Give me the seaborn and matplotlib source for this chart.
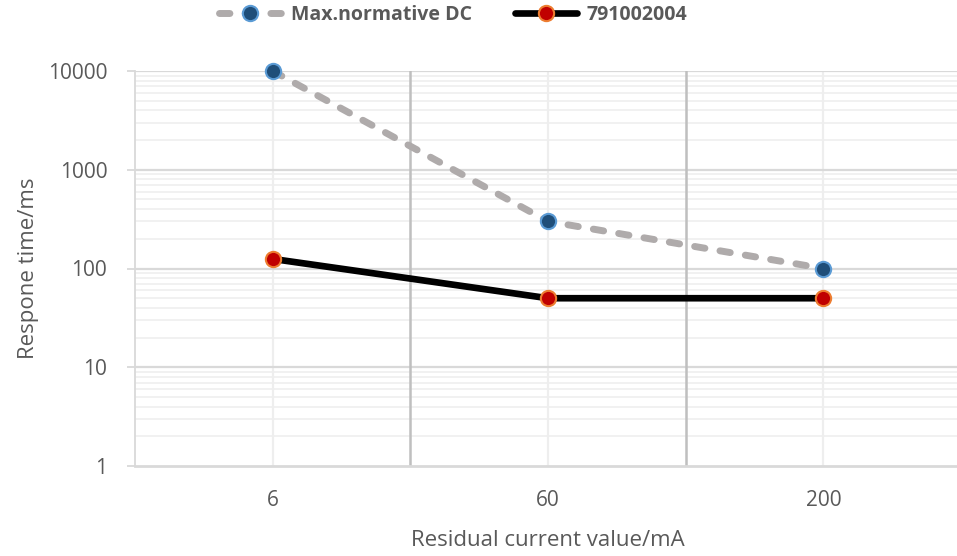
import matplotlib
matplotlib.use("Agg")
import matplotlib.pyplot as plt
import seaborn as sns
import pandas as pd
from matplotlib.ticker import LogLocator, FixedLocator, NullFormatter

categories = ["6", "60", "200"]
max_normative = [10000, 300, 100]
device = [125, 50, 50]
series_names = ["Max.normative DC", "791002004"]
y_ticks = [1, 10, 100, 1000, 10000]
x_label = "Residual current value/mA"
y_label = "Respone time/ms"

sns.set_theme(style="white")
plt.rcParams["font.family"] = ["Open Sans", "DejaVu Sans"]

fig = plt.figure(figsize=(9.57, 5.56), dpi=100)
ax = fig.add_axes([135/957, 1-466/556, (961-135)/957, (466-71)/556])

df1 = pd.DataFrame({"x": categories, "y": max_normative})
df2 = pd.DataFrame({"x": categories, "y": device})

sns.lineplot(data=df1, x="x", y="y", ax=ax, color="#afabab", lw=5,
             linestyle=(0, (1.5, 2.2)), dash_capstyle="round",
             marker="o", markersize=11, markerfacecolor="#1f4e79",
             markeredgecolor="#5b9bd5", markeredgewidth=1.5,
             label=series_names[0], zorder=5, clip_on=False)
sns.lineplot(data=df2, x="x", y="y", ax=ax, color="black", lw=4.8,
             marker="o", markersize=11, markerfacecolor="#c00000",
             markeredgecolor="#ed7d31", markeredgewidth=1.5,
             label=series_names[1], zorder=6, clip_on=False)

ax.set_yscale("log")
ax.set_ylim(1, 10000)
ax.set_xlim(-0.5, 2.5)
ax.yaxis.set_major_locator(FixedLocator(y_ticks))
ax.set_yticklabels([str(v) for v in y_ticks])
ax.yaxis.set_minor_locator(LogLocator(base=10, subs=range(2, 10)))
ax.yaxis.set_minor_formatter(NullFormatter())

# grid
ax.grid(False)
for v in y_ticks[1:]:
    ax.axhline(v, color="#d9d9d9", lw=1.6, zorder=1)
for d in range(0, 4):
    for s in range(2, 10):
        ax.axhline(s * 10**d, color="#f0f0f0", lw=1.3, zorder=0.5)
for i in range(len(categories)):
    ax.axvline(i, color="#eeeeee", lw=1.6, zorder=0.8)
for b in [0.5, 1.5]:
    ax.axvline(b, color="#bfbfbf", lw=1.8, zorder=1.2)

for s in ["top", "right"]:
    ax.spines[s].set_visible(False)
ax.spines["left"].set_color("#d9d9d9")
ax.spines["left"].set_linewidth(1.3)
ax.spines["bottom"].set_color("#d9d9d9")
ax.spines["bottom"].set_linewidth(2)

ax.tick_params(axis="y", which="major", length=6, width=1.3, color="#d9d9d9",
               labelsize=15, labelcolor="#595959", pad=14, left=True)
ax.tick_params(axis="y", which="minor", length=0)
ax.tick_params(axis="x", length=0, labelsize=15, labelcolor="#595959", pad=17)

ax.set_xlabel(x_label, fontsize=16, color="#595959", labelpad=14)
ax.set_ylabel(y_label, fontsize=16, color="#595959", labelpad=6)

leg = ax.legend(loc="center", bbox_to_anchor=(453/957, 1-15/556),
                bbox_transform=fig.transFigure, ncol=2, frameon=False,
                prop={"weight": "bold", "size": 14}, handlelength=3.2,
                columnspacing=2.2, handletextpad=0.5)
for t in leg.get_texts():
    t.set_color("#595959")

fig.savefig("out.png", dpi=100)
